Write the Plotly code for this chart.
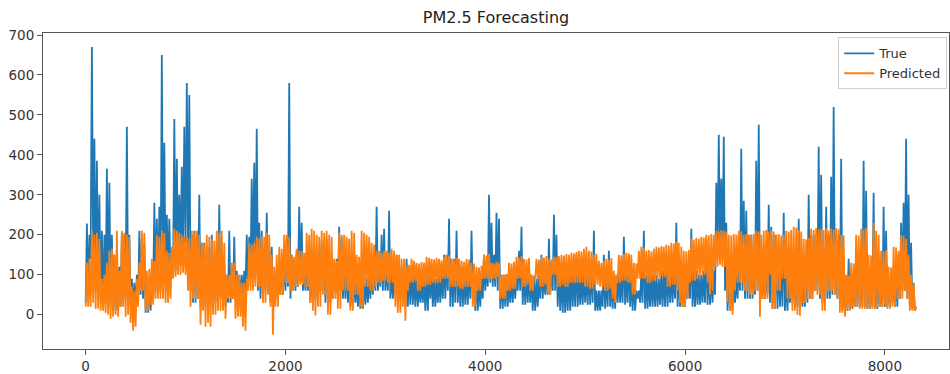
import plotly.graph_objects as go

# Each time bin (STEP samples wide) is stored as the low and high value
# that the line reaches inside that bin.
STEP = 25

true_hi = [
    # 0 - 1375
    228, 200, 670, 440, 385, 300, 210, 200, 365, 330, 200, 150, 150, 120, 205, 200, 470, 200, 90, 80,
    100, 210, 190, 180, 100, 90, 110, 280, 240, 270, 650, 430, 250, 240, 160, 490, 390, 300, 370, 470,
    580, 550, 200, 210, 210, 300, 180, 180, 160, 170, 200, 150, 170, 275, 130, 130,
    # 1400 - 3175
    100, 210, 120, 195, 110, 100, 100, 110, 200, 195, 340, 380, 465, 230, 210, 150, 255, 170, 170, 100,
    100, 110, 120, 150, 190, 580, 150, 140, 160, 270, 230, 120, 130, 180, 130, 100, 90, 130, 185, 150,
    190, 110, 100, 110, 140, 220, 195, 130, 130, 110, 90, 90, 90, 80, 70, 80, 90, 110, 120, 130,
    270, 130, 200, 215, 120, 260, 110, 110, 150, 120, 120, 110,
    # 3200 - 5000
    140, 120, 120, 100, 100, 90, 80, 100, 100, 110, 110, 90, 90, 100, 100, 150, 150, 240, 140, 140,
    210, 120, 120, 110, 110, 120, 210, 100, 100, 90, 90, 150, 120, 300, 230, 150, 255, 240, 100, 100,
    100, 90, 90, 100, 100, 160, 220, 120, 110, 110, 100, 90, 90, 100, 150, 100, 100, 190, 130, 250,
    200, 130, 110, 110, 100, 100, 110, 110, 150, 100, 100, 110, 110,
    # 5025 - 6825
    130, 130, 210, 60, 60, 60, 150, 100, 160, 90, 90, 100, 100, 100, 195, 100, 150, 100, 100, 60,
    60, 110, 210, 100, 100, 100, 100, 100, 90, 110, 110, 130, 130, 110, 110, 230, 110, 110, 100, 100,
    110, 215, 110, 110, 100, 100, 110, 190, 110, 110, 110, 330, 450, 340, 445, 230, 110, 110, 100, 100,
    130, 415, 285, 260, 200, 200, 150, 385, 475, 130, 130, 130, 275,
    # 6850 - 8300
    220, 200, 200, 150, 130, 255, 100, 100, 160, 160, 110, 240, 100, 100, 120, 300, 200, 200, 200, 420,
    350, 150, 270, 200, 345, 520, 200, 200, 390, 100, 80, 140, 80, 80, 160, 130, 120, 385, 310, 100,
    100, 305, 100, 100, 100, 270, 210, 90, 90, 100, 100, 150, 230, 280, 440, 300, 180, 80, 20,
]

true_lo = [
    30, 40, 140, 150, 60, 40, 30, 20, 40, 30, 20, 10, 10, 10, 20, 30, 40, 30, 20, 15,
    15, 30, 50, 40, 5, 5, 10, 40, 60, 50, 60, 100, 90, 90, 90, 100, 110, 120, 130, 150,
    180, 150, 60, 30, 30, 40, 20, 20, 20, 20, 20, 20, 30, 40, 40, 30,
    20, 30, 30, 40, 40, 30, 30, 40, 60, 70, 100, 120, 130, 60, 40, 40, 60, 60, 30, 30,
    40, 40, 50, 50, 60, 70, 40, 60, 60, 70, 80, 60, 60, 60, 30, 30, 40, 40, 60, 60,
    30, 30, 30, 40, 60, 60, 60, 40, 40, 30, 20, 20, 30, 20, 15, 15, 25, 30, 40, 50,
    60, 60, 70, 60, 60, 60, 40, 40, 50, 60, 50, 50,
    20, 20, 25, 25, 20, 20, 30, 30, 10, 10, 40, 20, 20, 30, 30, 40, 40, 60, 20, 20,
    30, 30, 20, 20, 25, 25, 40, 40, 10, 10, 20, 40, 60, 70, 80, 70, 70, 60, 15, 15,
    20, 20, 30, 30, 40, 60, 60, 25, 25, 30, 30, 10, 10, 20, 40, 40, 50, 50, 50, 60,
    60, 20, 10, 5, 5, 10, 10, 20, 20, 20, 25, 25, 30,
    25, 25, 30, 10, 10, 10, 20, 15, 20, 20, 15, 15, 30, 30, 30, 25, 30, 20, 10, 10,
    40, 30, 30, 15, 15, 20, 20, 20, 20, 25, 20, 20, 20, 30, 30, 40, 20, 20, 20, 20,
    40, 40, 20, 20, 25, 25, 30, 30, 25, 25, 30, 50, 150, 150, 150, 60, 10, 10, 10, 30,
    40, 60, 60, 40, 40, 40, 40, 50, 60, 40, 40, 40, 50,
    30, 15, 15, 15, 20, 20, 10, 10, 30, 30, 20, 20, 20, 20, 20, 30, 40, 40, 60, 60,
    40, 30, 30, 40, 40, 50, 50, 40, 30, 10, 10, 10, 15, 15, 20, 20, 20, 20, 20, 15,
    15, 20, 15, 15, 20, 20, 20, 20, 20, 30, 20, 20, 40, 60, 60, 40, 20, 15, 10,
]

pred_hi = [
    130, 140, 210, 200, 205, 190, 90, 100, 130, 160, 165, 150, 210, 110, 210, 205, 200, 195, 70, 60,
    90, 130, 210, 205, 110, 115, 140, 135, 200, 195, 210, 205, 160, 155, 170, 215, 210, 205, 200, 195,
    195, 190, 210, 205, 210, 200, 180, 175, 200, 195, 190, 185, 210, 205, 210, 180,
    100, 100, 130, 130, 100, 100, 80, 80, 90, 180, 175, 180, 195, 190, 195, 195, 205, 200, 150, 120,
    150, 170, 165, 200, 200, 195, 150, 145, 165, 160, 160, 155, 205, 200, 215, 210, 200, 195, 210, 205,
    210, 200, 195, 140, 135, 205, 200, 200, 195, 190, 210, 205, 150, 145, 210, 205, 200, 195, 180, 175,
    160, 160, 155, 160, 160, 155, 165, 160, 150, 150, 140, 140,
    120, 125, 140, 135, 130, 128, 132, 130, 145, 142, 140, 138, 142, 140, 136, 145, 150, 148, 140, 138,
    142, 140, 135, 132, 140, 138, 130, 128, 120, 118, 122, 150, 148, 152, 130, 128, 132, 130, 100, 98,
    102, 130, 128, 132, 145, 143, 147, 140, 138, 142, 100, 98, 140, 138, 145, 143, 147, 140, 138, 145,
    143, 147, 150, 148, 152, 150, 155, 153, 157, 160, 158, 165, 170,
    160, 158, 150, 152, 135, 130, 135, 140, 138, 142, 110, 100, 150, 148, 152, 155, 153, 150, 130, 128,
    160, 170, 168, 160, 162, 158, 165, 170, 168, 172, 170, 175, 173, 180, 178, 182, 180, 170, 160, 158,
    162, 190, 188, 192, 190, 195, 193, 200, 198, 202, 200, 210, 208, 212, 210, 208, 200, 198, 202, 200,
    210, 208, 200, 202, 198, 200, 202, 210, 208, 200, 210, 212, 208,
    210, 208, 200, 202, 198, 200, 210, 208, 212, 220, 218, 210, 208, 190, 188, 192, 215, 212, 216, 214,
    215, 212, 216, 210, 215, 213, 217, 214, 200, 198, 100, 98, 130, 128, 200, 198, 215, 213, 217, 150,
    148, 230, 210, 200, 160, 158, 162, 120, 118, 170, 168, 160, 200, 198, 190, 150, 100, 80, 20,
]

pred_lo = [
    20, 20, 20, 30, 15, 15, 10, 10, 5, 0, -10, -5, 0, -5, 20, 20, -5, 0, -20, -40,
    -30, 20, 60, 60, 10, 10, 25, 25, 40, 40, 40, 40, 30, 30, 40, 90, 95, 100, 100, 105,
    100, 60, 20, 40, 40, 40, -25, 10, -30, -20, -30, 0, 0, 10, 10, 10,
    -10, 40, 40, 40, -10, -5, -5, -30, -40, 60, 60, 60, 70, 70, 70, 30, 30, 50, 20, -50,
    20, 20, 50, 50, 80, 80, 60, 60, 70, 70, 75, 75, 70, 70, 30, 10, -2, 20, 20, 50,
    50, 0, 0, 40, 40, 15, 15, 60, 60, 60, 10, 10, 50, 50, 20, 20, 70, 70, 60, 60,
    70, 80, 80, 85, 85, 80, 80, 80, 20, 5, 5, 20,
    -15, 60, 80, 80, 85, 60, 60, 70, 70, 75, 75, 80, 80, 80, 80, 90, 90, 90, 70, 70,
    70, 70, 65, 65, 70, 70, 70, 20, 20, 60, 60, 90, 90, 90, 90, 90, 90, 95, 40, 40,
    40, 60, 60, 65, 65, 90, 90, 70, 70, 75, 60, 60, 90, 90, 70, 70, 75, 55, 50, 100,
    100, 70, 70, 75, 70, 70, 80, 80, 80, 80, 80, 80, 70,
    70, 65, 65, 75, 75, 70, 70, 60, 60, 65, 40, 30, 80, 80, 85, 85, 80, 80, 50, 50,
    90, 90, 90, 90, 80, 80, 85, 85, 90, 90, 95, 95, 70, 70, 75, 75, 60, 30, 20, 20,
    40, 80, 85, 85, 90, 100, 100, 100, 80, 50, 60, 120, 120, 125, 120, 120, 30, 10, 0, 60,
    80, 80, 80, 60, 60, 50, 50, 60, 60, -5, 40, 40, 40,
    100, 15, 15, 60, 60, 90, 90, 40, 40, 10, 10, 0, -3, 30, 30, 40, 40, 40, 60, 50,
    50, 10, 10, 60, 60, 60, 50, 40, 5, 5, -5, 10, 10, 20, 20, 20, 15, 15, 15, 15,
    15, 15, 15, 20, 20, 20, 25, 15, 15, 20, 20, 40, 40, 40, 60, 40, 10, 10, 10,
]

x_ticks = [0, 2000, 4000, 6000, 8000]
y_ticks = [0, 100, 200, 300, 400, 500, 600, 700]


def bins_to_line(lo, hi):
    xs, ys = [], []
    for k, (a, b) in enumerate(zip(lo, hi)):
        xs += [k * STEP, k * STEP + STEP / 2]
        ys += [a, b]
    return xs, ys


xt, yt = bins_to_line(true_lo, true_hi)
xp, yp = bins_to_line(pred_lo, pred_hi)

fig = go.Figure()
fig.add_trace(go.Scatter(x=xt, y=yt, mode="lines", name="True",
                         line=dict(color="#1f77b4", width=1.8)))
fig.add_trace(go.Scatter(x=xp, y=yp, mode="lines", name="Predicted",
                         line=dict(color="#ff7f0e", width=1.8)))

font_family = "DejaVu Sans, sans-serif"
fig.update_layout(
    width=950, height=374,
    margin=dict(l=43, r=1, t=33, b=25),
    paper_bgcolor="white", plot_bgcolor="white",
    font=dict(family=font_family, size=13, color="#333"),
    title=dict(text="PM2.5 Forecasting", x=0.5, xref="paper", xanchor="center",
               y=1 - 17 / 374, yref="container", yanchor="middle",
               font=dict(size=16, color="#222")),
    showlegend=True,
    legend=dict(x=0.998, y=0.986, xanchor="right", yanchor="top",
                bgcolor="rgba(255,255,255,0.85)", bordercolor="#d0d0d0", borderwidth=1,
                font=dict(size=13, color="#333"), itemwidth=30, tracegroupgap=0),
)
fig.update_xaxes(range=[-427, 8642], tickvals=x_ticks, ticktext=[str(v) for v in x_ticks],
                 showgrid=False, zeroline=False, showline=True, mirror=True,
                 linecolor="#555", linewidth=1, ticks="outside", ticklen=5,
                 tickcolor="#555", tickfont=dict(size=13.5, color="#333"))
fig.update_yaxes(range=[-86, 705], tickvals=y_ticks, ticktext=[str(v) for v in y_ticks],
                 showgrid=False, zeroline=False, showline=True, mirror=True,
                 linecolor="#555", linewidth=1, ticks="outside", ticklen=5,
                 tickcolor="#555", tickfont=dict(size=13.5, color="#333"))

fig.write_html("out.html")
